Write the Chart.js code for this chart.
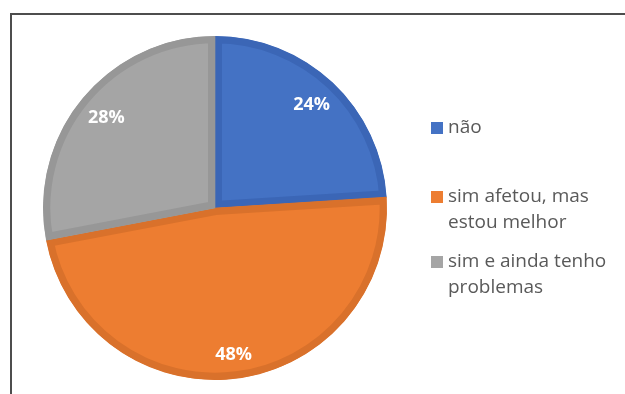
<!DOCTYPE html>
<html>
<head>
<meta charset="utf-8">
<script src="https://cdn.jsdelivr.net/npm/chart.js@4/dist/chart.umd.min.js"></script>
<style>
  html, body { margin: 0; padding: 0; background: #fff; }
  #wrap { position: relative; width: 625px; height: 394px; overflow: hidden; }
  #frame { position: absolute; left: 10px; top: 13px; width: 700px; height: 500px;
           border: 2px solid #4d4d4d; box-sizing: border-box; }
  #chart { position: absolute; left: 0; top: 0; }
</style>
</head>
<body>
<div id="wrap">
  <div id="frame"></div>
  <canvas id="chart" width="625" height="394"></canvas>
</div>
<script>
const labels = ['não', ['sim afetou, mas', 'estou melhor'], ['sim e ainda tenho', 'problemas']];
const values = [24, 48, 28];
const fills = ['#4472C4', '#ED7D31', '#A5A5A5'];
const edges = ['#3B66B6', '#D9712B', '#979797'];

// percentage text inside each slice
const slice_labels = {
    id: 'slice_labels',
    afterDatasetsDraw(chart) {
        const ctx = chart.ctx;
        const total = values.reduce((a, b) => a + b, 0);
        ctx.save();
        ctx.font = 'bold 18px "Open Sans"';
        ctx.fillStyle = '#ffffff';
        ctx.textAlign = 'center';
        ctx.textBaseline = 'middle';
        chart.getDatasetMeta(0).data.forEach((arc, i) => {
            const mid = (arc.startAngle + arc.endAngle) / 2;
            const r = arc.outerRadius * (i === 1 ? 0.86 : 0.82);
            const x = arc.x + Math.cos(mid) * r;
            const y = arc.y + Math.sin(mid) * r;
            ctx.fillText(Math.round(values[i] / total * 100) + '%', x, y);
        });
        ctx.restore();
    }
};

// legend on the right, one square per slice
const side_legend = {
    id: 'side_legend',
    afterDraw(chart) {
        const ctx = chart.ctx;
        const tops = [128, 197, 262];
        const lineH = 26;
        ctx.save();
        ctx.font = '19px "Open Sans"';
        ctx.textBaseline = 'middle';
        ctx.textAlign = 'left';
        labels.forEach((lab, i) => {
            const lines = Array.isArray(lab) ? lab : [lab];
            ctx.fillStyle = fills[i];
            ctx.fillRect(431, tops[i] - 6, 12, 12);
            ctx.fillStyle = '#595959';
            lines.forEach((t, j) => ctx.fillText(t, 448, tops[i] + j * lineH));
        });
        ctx.restore();
    }
};

const init_chart = () => {
    const ctx = document.getElementById('chart').getContext('2d');
    new Chart(ctx, {
        type: 'pie',
        data: {
            labels: labels,
            datasets: [{
                data: values,
                backgroundColor: fills,
                borderColor: edges,
                borderWidth: 7,
                borderAlign: 'inner',
            }],
        },
        options: {
            responsive: false,
            animation: false,
            layout: { padding: { left: 43, right: 238, top: 36, bottom: 14 } },
            plugins: {
                legend: { display: false },
                tooltip: { enabled: false },
            },
        },
        plugins: [slice_labels, side_legend],
    });
};

init_chart();
</script>
</body>
</html>
